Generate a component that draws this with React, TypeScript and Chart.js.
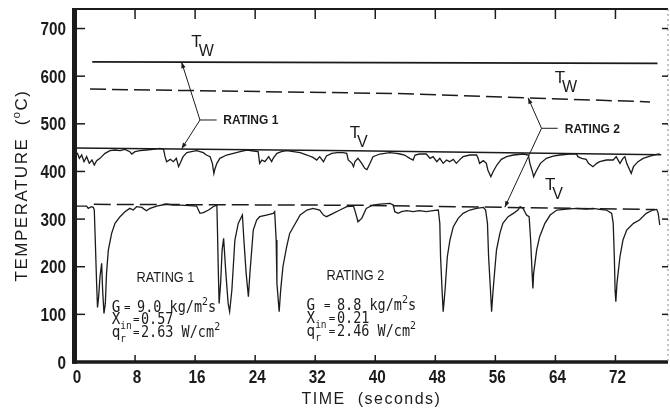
import React, { useEffect, useRef } from 'react';
import { Chart, registerables } from 'chart.js';

Chart.register(...registerables);

// ---------- axis ticks ----------
const xTicks = [0, 8, 16, 24, 32, 40, 48, 56, 64, 72];
const yTicks = [0, 100, 200, 300, 400, 500, 600, 700];
const X_MAX = 79;
const Y_MAX = 741;

// ---------- series: [time s, temperature °C] ----------
const twRating1: [number, number][] = [[2.3, 630], [77.6, 627]];
const twRating2: [number, number][] = [[2, 573], [10, 571], [43, 563.5], [76.6, 546]];
const tvRating1: [number, number][] = [[0, 449], [37, 443.5], [78.1, 435]];
const tvRating2: [number, number][] = [[2.5, 331], [38, 329], [77.3, 320]];

const traceRating1: [number, number][] = [
  [0.3, 439.4], [0.58, 427.5], [0.89, 434.5], [1.2, 420.5], [1.55, 431], [1.9, 417], [2.26, 424],
  [2.57, 413.5], [2.88, 422.6], [3.33, 427.5], [4.0, 438], [4.66, 443.6], [5.33, 445], [6.0, 443.6],
  [6.66, 446.4], [7.3, 441.5], [7.55, 436.6], [8.0, 441.5], [8.66, 443.6], [9.5, 445], [10.4, 446.4],
  [11.3, 448.5], [11.8, 446.4], [12.0, 431], [12.2, 420.5], [12.7, 425.4], [13.1, 420.5], [13.5, 427.5],
  [13.8, 410], [14.1, 420.5], [14.4, 431], [14.9, 439.4], [15.5, 441.5], [16.2, 443.6], [17.1, 439.4],
  [17.5, 434.5], [18.0, 431], [18.3, 417], [18.5, 396], [18.6, 403], [18.9, 417], [19.3, 427.5],
  [20.2, 434.5], [21.1, 438], [22.0, 441.5], [22.9, 445], [23.8, 442.9], [24.4, 441.5], [24.6, 417],
  [24.9, 424], [25.3, 420.5], [25.8, 431], [26.2, 420.5], [26.4, 427.5], [26.9, 438], [27.5, 441.5],
  [28.2, 443.6], [29.1, 441.5], [30.0, 439.4], [30.9, 434.5], [31.7, 429.6], [32.2, 424], [32.6, 431],
  [33.1, 420.5], [33.5, 432.4], [34.2, 438], [34.9, 439.4], [35.7, 439.4], [36.2, 438], [36.4, 424],
  [36.9, 417], [37.1, 410], [37.3, 420.5], [37.7, 427.5], [38.2, 417], [38.6, 406.5], [38.9, 404],
  [39.3, 417], [39.7, 431], [40.6, 436.6], [41.95, 439.4], [42.8, 438], [43.3, 436.6], [43.9, 434.5],
  [44.6, 427.5], [45.05, 424], [45.3, 434.5], [45.9, 436.6], [46.8, 436.6], [47.3, 427.5], [47.7, 431],
  [48.2, 420.5], [48.6, 427.5], [49.05, 417], [49.5, 424], [49.9, 420.5], [50.4, 425.4], [50.8, 417],
  [51.3, 425.4], [51.7, 431], [52.6, 434.5], [53.5, 434.5], [53.7, 427.5], [53.9, 417], [54.4, 422.6],
  [54.8, 417], [55.0, 403], [55.4, 389], [55.7, 399.5], [56.2, 413.5], [56.8, 425.4], [57.5, 431],
  [58.4, 434.5], [59.7, 436.6], [60.4, 434.5], [60.6, 417], [61.0, 396], [61.1, 389], [61.4, 399.5],
  [62.0, 417], [62.8, 427.5], [63.7, 432.4], [64.6, 434.5], [65.9, 436.6], [66.8, 436.6], [67.0, 431],
  [67.5, 427.5], [68.1, 425.4], [68.4, 417], [69.0, 410], [69.5, 417], [69.9, 420.5], [70.8, 424],
  [71.7, 424], [72.1, 431], [72.6, 417], [73.0, 427.5], [73.25, 431], [73.5, 417], [73.9, 403],
  [74.1, 396], [74.4, 410], [75.0, 420.5], [75.7, 427.5], [76.6, 432.4], [77.5, 435.9], [77.9, 436.6],
];

const traceRating2: [number, number][] = [
  [0.22, 327.4], [1.55, 327.4], [1.77, 322.5], [2.2, 326], [2.44, 324.6], [2.57, 319], [2.7, 256],
  [2.88, 165], [3.0, 114.6], [3.15, 137], [3.33, 179], [3.55, 207], [3.68, 151], [3.86, 102],
  [4.04, 123], [4.2, 186], [4.44, 235], [4.88, 270], [5.33, 291], [6.0, 305], [6.66, 315.5],
  [7.3, 322.5], [7.77, 319], [8.2, 326], [8.9, 324.6], [9.5, 317.6], [10.0, 322.5], [10.9, 327.4],
  [12.2, 331.6], [13.1, 329.5], [14.0, 329.5], [15.3, 328.1], [16.2, 327.4], [16.65, 312], [17.1, 313.4],
  [17.8, 319], [18.4, 326], [18.9, 329.5], [18.96, 291], [19.1, 186], [19.2, 123], [19.4, 165],
  [19.6, 235], [19.8, 259.5], [20.1, 186], [20.4, 123], [20.6, 105.5], [20.9, 151], [21.3, 256],
  [21.75, 291], [22.3, 308.5], [22.5, 256], [22.8, 186], [23.1, 137], [23.3, 186], [23.75, 277],
  [24.2, 298], [24.6, 305], [25.5, 308.5], [26.4, 312], [26.6, 315.5], [26.8, 256], [26.9, 165],
  [27.2, 105.5], [27.4, 151], [27.7, 200], [28.2, 242], [28.6, 270], [29.1, 284], [30.0, 308.5],
  [30.9, 319], [31.7, 322.5], [32.6, 319], [33.1, 308.5], [33.5, 305], [34.4, 312], [35.3, 319],
  [36.2, 326], [37.1, 327.4], [37.4, 312], [37.7, 294.5], [38.2, 301.5], [38.8, 322.5], [39.7, 329.5],
  [40.6, 331.6], [41.95, 333], [42.4, 329.5], [42.6, 315.5], [43.05, 312], [43.5, 315.5], [44.2, 317.6],
  [45.05, 315.5], [45.9, 317.6], [46.8, 315.5], [47.7, 317.6], [48.4, 319], [48.6, 291], [48.7, 221],
  [48.9, 151], [49.05, 105.5], [49.3, 151], [49.6, 221], [49.95, 256], [50.4, 284], [51.05, 301.5],
  [51.7, 312], [52.6, 319], [53.5, 322.5], [54.4, 324.6], [54.7, 319], [54.95, 291], [55.1, 221],
  [55.35, 151], [55.5, 105.5], [55.7, 151], [56.15, 235], [56.6, 270], [57.0, 291], [57.7, 305],
  [58.4, 312], [59.0, 319], [59.3, 326], [59.7, 322.5], [60.15, 308.5], [60.5, 305], [60.7, 256],
  [60.9, 186], [61.0, 154.5], [61.1, 186], [61.5, 235], [61.9, 263], [62.6, 291], [63.3, 308.5],
  [64.2, 319], [65.5, 321.1], [66.8, 322.5], [68.1, 321.1], [69.0, 322.5], [69.9, 320.4], [70.8, 319],
  [71.5, 312], [71.7, 291], [71.85, 221], [71.95, 151], [72.05, 126.5], [72.2, 165], [72.6, 221],
  [73.0, 256], [73.5, 277], [74.4, 291], [75.2, 298], [76.1, 312], [77.0, 319], [77.5, 320.4],
  [77.7, 312], [77.9, 287.5],
];

// ---------- annotation texts (data coordinates) ----------
const curveLabels = [
  { main: 'T', sub: 'W', t: 15.5, v: 662 },
  { main: 'T', sub: 'V', t: 36.6, v: 469.6 },
  { main: 'T', sub: 'W', t: 63.9, v: 585 },
  { main: 'T', sub: 'V', t: 62.6, v: 361 },
];

const ratingPointers = [
  { text: 'RATING 1', a: [14.2, 629.5], vertex: [16.65, 508], b: [14.2, 447.5], tickEnd: 18.87, textT: 19.75 },
  { text: 'RATING 2', a: [60.36, 554.5], vertex: [62.15, 490.6], b: [57.26, 325], tickEnd: 64.3, textT: 65.25 },
];

const conditionBlocks = [
  {
    title: 'RATING 1', titleT: 8.2, titleV: 168.5, col1: 4.89,
    rows: [
      { label: 'G', sub: '', eqT: 6.52, valT: 8.26, value: '9.0 kg/m', sup: '2', tail: 's', v: 105.5 },
      { label: 'X', sub: 'in', eqT: 7.72, valT: 8.79, value: '0.57', sup: '', tail: '', v: 79.6 },
      { label: 'q', sub: 'r', eqT: 7.72, valT: 8.79, value: '2.63 W/cm', sup: '2', tail: '', v: 51.7 },
    ],
  },
  {
    title: 'RATING 2', titleT: 33.5, titleV: 172, col1: 30.85,
    rows: [
      { label: 'G', sub: '', eqT: 33.16, valT: 34.89, value: '8.8 kg/m', sup: '2', tail: 's', v: 109 },
      { label: 'X', sub: 'in', eqT: 33.82, valT: 34.89, value: '0.21', sup: '', tail: '', v: 81 },
      { label: 'q', sub: 'r', eqT: 33.82, valT: 34.89, value: '2.46 W/cm', sup: '2', tail: '', v: 54.4 },
    ],
  },
];

const xTitle = 'TIME  (seconds)';
const yTitle = 'TEMPERATURE  (';
const yTitleEnd = 'C)';

const SANS = '"Liberation Sans", Arial, Helvetica, sans-serif';
const MONO = '"DejaVu Sans Mono", "Liberation Mono", monospace';
const INK = '#1b1b1b';

type Run = { s: string; size: number; dy?: number; weight?: string; family?: string };

function drawRuns(ctx: CanvasRenderingContext2D, x: number, y: number, runs: Run[], hs = 1) {
  let cx = x;
  for (const r of runs) {
    ctx.font = `${r.weight || 'normal'} ${r.size}px ${r.family || SANS}`;
    ctx.save();
    ctx.translate(cx, y + (r.dy || 0));
    ctx.scale(hs, 1);
    ctx.textAlign = 'left';
    ctx.textBaseline = 'alphabetic';
    ctx.fillText(r.s, 0, 0);
    ctx.restore();
    cx += ctx.measureText(r.s).width * hs;
  }
  return cx - x;
}

function runsWidth(ctx: CanvasRenderingContext2D, runs: Run[], hs = 1) {
  let w = 0;
  for (const r of runs) {
    ctx.font = `${r.weight || 'normal'} ${r.size}px ${r.family || SANS}`;
    w += ctx.measureText(r.s).width * hs;
  }
  return w;
}

function seg(ctx: CanvasRenderingContext2D, x1: number, y1: number, x2: number, y2: number) {
  ctx.beginPath();
  ctx.moveTo(x1, y1);
  ctx.lineTo(x2, y2);
  ctx.stroke();
}

function arrowTo(ctx: CanvasRenderingContext2D, x1: number, y1: number, x2: number, y2: number) {
  seg(ctx, x1, y1, x2, y2);
  const ang = Math.atan2(y2 - y1, x2 - x1);
  const L = 6, W = 2.2;
  ctx.beginPath();
  ctx.moveTo(x2, y2);
  ctx.lineTo(x2 - L * Math.cos(ang) + W * Math.sin(ang), y2 - L * Math.sin(ang) - W * Math.cos(ang));
  ctx.lineTo(x2 - L * Math.cos(ang) - W * Math.sin(ang), y2 - L * Math.sin(ang) + W * Math.cos(ang));
  ctx.closePath();
  ctx.fill();
}

const decorPlugin = {
  id: 'decor',
  afterDraw(chart: any) {
    const { ctx, chartArea: ca } = chart;
    const xs = chart.scales.x;
    const ys = chart.scales.y;
    const px = (t: number) => xs.getPixelForValue(t);
    const py = (v: number) => ys.getPixelForValue(v);
    ctx.save();
    ctx.strokeStyle = INK;
    ctx.fillStyle = INK;
    ctx.setLineDash([]);

    // frame
    ctx.lineWidth = 5;
    seg(ctx, ca.left - 0.5, ca.top - 1, ca.left - 0.5, ca.bottom + 1.8);
    ctx.lineWidth = 3.5;
    seg(ctx, ca.left - 3, ca.bottom, ca.right, ca.bottom);
    ctx.lineWidth = 2;
    seg(ctx, ca.left - 3, ca.top, ca.right, ca.top);
    ctx.save();
    ctx.strokeStyle = '#888';
    ctx.lineWidth = 1;
    ctx.setLineDash([2, 3]);
    seg(ctx, ca.right, ca.top, ca.right, ca.bottom);
    ctx.restore();

    // inward ticks
    ctx.lineWidth = 1.5;
    for (const v of yTicks) {
      if (v === 0) continue;
      const y = py(v);
      seg(ctx, ca.left + 2, y, ca.left + 10, y);
      seg(ctx, ca.right - 6, y, ca.right, y);
    }
    for (const t of xTicks) {
      if (t === 0) continue;
      const x = px(t);
      seg(ctx, x, ca.bottom, x, ca.bottom - 7);
      seg(ctx, x, ca.top, x, ca.top + 10);
    }

    // tick labels
    for (const v of yTicks) {
      const runs: Run[] = [{ s: String(v), size: 18, weight: 'bold' }];
      const w = runsWidth(ctx, runs, 0.85);
      drawRuns(ctx, 66 - w, py(v) + 6.5, runs, 0.85);
    }
    for (const t of xTicks) {
      const runs: Run[] = [{ s: String(t), size: 18, weight: 'bold' }];
      const w = runsWidth(ctx, runs, 0.85);
      drawRuns(ctx, px(t) - w / 2 + 2, ca.bottom + 21, runs, 0.85);
    }

    // axis titles
    (ctx as any).letterSpacing = '1.5px';
    const xr: Run[] = [{ s: xTitle, size: 16 }];
    const xw = runsWidth(ctx, xr, 1);
    drawRuns(ctx, (ca.left + ca.right) / 2 - xw / 2, 404, xr, 1);
    ctx.save();
    ctx.translate(27, (ca.top + ca.bottom) / 2);
    ctx.rotate(-Math.PI / 2);
    (ctx as any).letterSpacing = '1.5px';
    const yr: Run[] = [{ s: yTitle, size: 17 }, { s: 'o', size: 11, dy: -7 }, { s: yTitleEnd, size: 17 }];
    const yw = runsWidth(ctx, yr, 1);
    drawRuns(ctx, -yw / 2, 0, yr, 1);
    ctx.restore();
    (ctx as any).letterSpacing = '0px';

    // curve labels T_W / T_V
    for (const c of curveLabels) {
      const x = px(c.t), y = py(c.v);
      ctx.font = `normal 17px ${SANS}`;
      const tw = ctx.measureText(c.main).width;
      drawRuns(ctx, x, y, [{ s: c.main, size: 17 }]);
      drawRuns(ctx, x + tw - 3, y + 9, [{ s: c.sub, size: 16 }]);
    }

    // rating pointers
    ctx.lineWidth = 1;
    for (const r of ratingPointers) {
      const vx = px(r.vertex[0]), vy = py(r.vertex[1]);
      arrowTo(ctx, vx, vy, px(r.a[0]), py(r.a[1]));
      arrowTo(ctx, vx, vy, px(r.b[0]), py(r.b[1]));
      seg(ctx, vx, vy, px(r.tickEnd), vy);
      drawRuns(ctx, px(r.textT), vy + 4.3, [{ s: r.text, size: 12, weight: 'bold' }], 1);
    }

    // condition blocks
    for (const b of conditionBlocks) {
      drawRuns(ctx, px(b.titleT), py(b.titleV), [{ s: b.title, size: 15 }], 0.85);
      for (const row of b.rows) {
        const y = py(row.v);
        const lab: Run[] = [{ s: row.label, size: 15, family: MONO }];
        if (row.sub) lab.push({ s: row.sub, size: 10, dy: 5, family: MONO });
        drawRuns(ctx, px(b.col1), y, lab, 0.95);
        drawRuns(ctx, px(row.eqT), y - 1, [{ s: '=', size: 12, family: MONO }], 0.9);
        const val: Run[] = [{ s: row.value, size: 15, family: MONO }];
        if (row.sup) val.push({ s: row.sup, size: 11, dy: -7, family: MONO });
        if (row.tail) val.push({ s: row.tail, size: 15, family: MONO });
        drawRuns(ctx, px(row.valT), y, val, 0.9);
      }
    }
    ctx.restore();
  },
};

const toXY = (pts: [number, number][]) => pts.map(([x, y]) => ({ x, y }));

export default function App() {
  const ref = useRef<HTMLCanvasElement | null>(null);
  useEffect(() => {
    document.body.style.margin = '0';
    document.body.style.background = '#ffffff';
    const canvas = ref.current;
    if (!canvas) return;
    const line = (data: [number, number][], width: number, dash: number[] = []) => ({
      data: toXY(data),
      borderColor: INK,
      borderWidth: width,
      borderDash: dash,
      pointRadius: 0,
      tension: 0,
      fill: false,
    });
    const chart = new Chart(canvas, {
      type: 'line',
      data: {
        datasets: [
          line(twRating1, 1.8) as any,
          line(twRating2, 1.5, [16, 6]) as any,
          line(tvRating1, 1.5) as any,
          line(tvRating2, 1.5, [17, 6]) as any,
          line(traceRating1, 1.3) as any,
          line(traceRating2, 1.3) as any,
        ],
      },
      options: {
        animation: false,
        responsive: false,
        maintainAspectRatio: false,
        events: [],
        layout: { padding: { top: 9, right: 2, left: 0, bottom: 0 } },
        plugins: { legend: { display: false }, tooltip: { enabled: false }, title: { display: false } },
        scales: {
          x: {
            type: 'linear',
            min: 0,
            max: X_MAX,
            grid: { display: false },
            border: { display: false },
            ticks: { display: false },
            afterBuildTicks: (s: any) => { s.ticks = xTicks.map((value) => ({ value })); },
            afterFit: (s: any) => { s.height = 52; },
          },
          y: {
            type: 'linear',
            min: 0,
            max: Y_MAX,
            grid: { display: false },
            border: { display: false },
            ticks: { display: false },
            afterBuildTicks: (s: any) => { s.ticks = yTicks.map((value) => ({ value })); },
            afterFit: (s: any) => { s.width = 75; },
          },
        },
      },
      plugins: [decorPlugin],
    });
    return () => chart.destroy();
  }, []);
  return <canvas ref={ref} width={670} height={414} style={{ display: 'block' }} />;
}
